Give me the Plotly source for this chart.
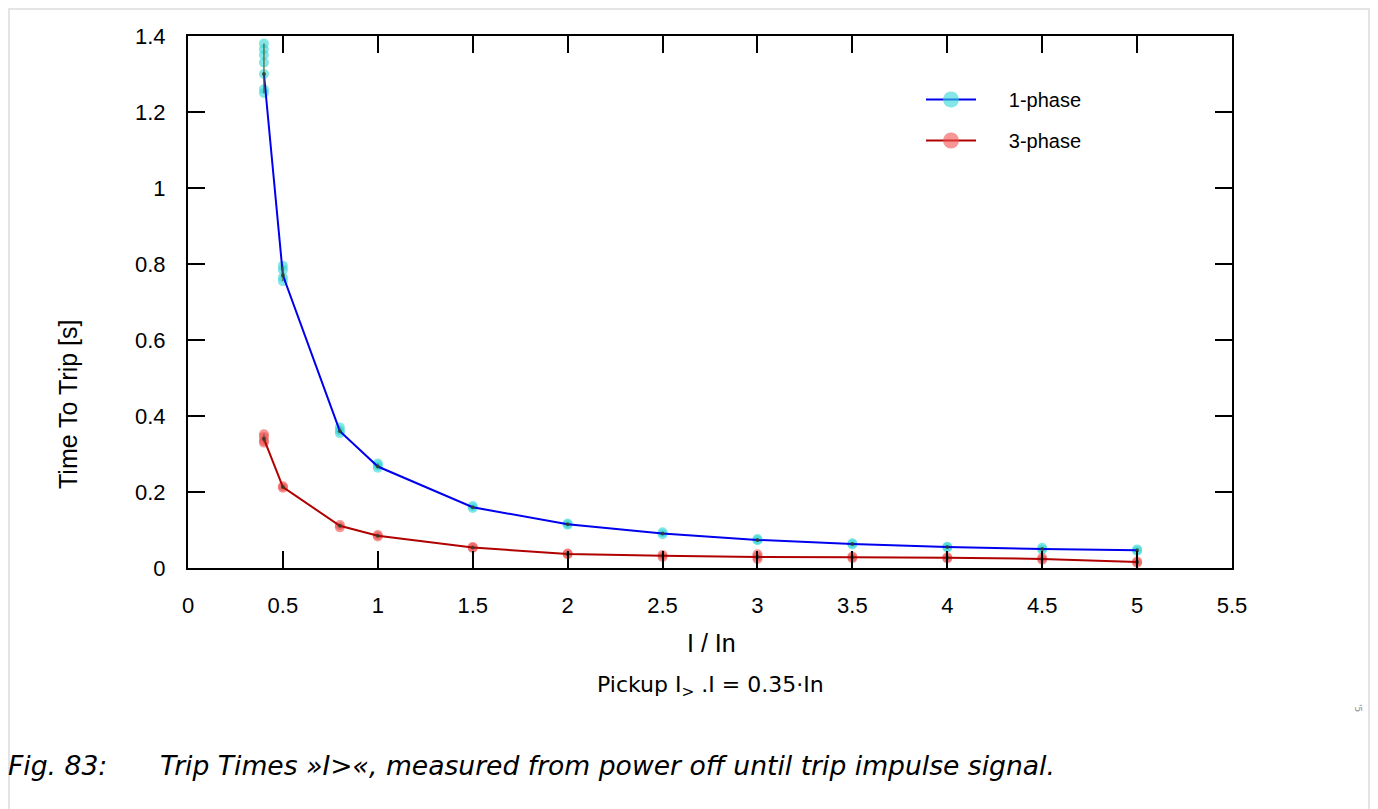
import plotly.graph_objects as go

# ---- data ----
x_levels = [0.4, 0.5, 0.8, 1.0, 1.5, 2.0, 2.5, 3.0, 3.5, 4.0, 4.5, 5.0]
t1_mean = [1.30, 0.77, 0.36, 0.267, 0.160, 0.115, 0.091, 0.074, 0.063, 0.055, 0.050, 0.047]
t3_mean = [0.340, 0.213, 0.111, 0.085, 0.054, 0.037, 0.032, 0.029, 0.028, 0.027, 0.024, 0.016]

t1_samples = [
    [1.25, 1.26, 1.30, 1.33, 1.35, 1.365, 1.38],
    [0.755, 0.765, 0.785, 0.795],
    [0.355, 0.362, 0.37],
    [0.264, 0.27, 0.275],
    [0.158, 0.163],
    [0.114, 0.117],
    [0.089, 0.094],
    [0.073, 0.076],
    [0.062, 0.065],
    [0.054, 0.056],
    [0.048, 0.053],
    [0.045, 0.049],
]
t3_samples = [
    [0.33, 0.335, 0.345, 0.352],
    [0.211, 0.215],
    [0.107, 0.113],
    [0.083, 0.087],
    [0.053, 0.055],
    [0.036, 0.038],
    [0.029, 0.034],
    [0.024, 0.030, 0.036],
    [0.026, 0.030],
    [0.025, 0.028],
    [0.022, 0.026],
    [0.014, 0.017],
]

x_ticks = [0, 0.5, 1, 1.5, 2, 2.5, 3, 3.5, 4, 4.5, 5, 5.5]
x_tick_labels = ["0", "0.5", "1", "1.5", "2", "2.5", "3", "3.5", "4", "4.5", "5", "5.5"]
y_ticks = [0, 0.2, 0.4, 0.6, 0.8, 1.0, 1.2, 1.4]
y_tick_labels = ["0", "0.2", "0.4", "0.6", "0.8", "1", "1.2", "1.4"]

series = [
    ("1-phase", t1_mean, t1_samples, "#0000ee", "rgba(50,215,215,0.6)"),
    ("3-phase", t3_mean, t3_samples, "#b00000", "rgba(240,80,80,0.6)"),
]

fig = go.Figure()
for name, means, samples, lcol, mcol in series:
    sx = [x for x, s in zip(x_levels, samples) for _ in s]
    sy = [v for s in samples for v in s]
    fig.add_trace(go.Scatter(x=sx, y=sy, mode="markers", showlegend=False,
                             marker=dict(size=10, color=mcol, line=dict(width=0)),
                             hoverinfo="skip"))
    fig.add_trace(go.Scatter(x=x_levels, y=means, mode="lines", showlegend=False,
                             line=dict(color=lcol, width=2)))
    fig.add_trace(go.Scatter(
        x=x_levels, y=means, mode="markers", showlegend=False,
        marker=dict(size=4, color="rgba(40,60,40,0.8)"),
        error_y=dict(type="data", symmetric=False,
                     array=[max(s) - m for s, m in zip(samples, means)],
                     arrayminus=[m - min(s) for s, m in zip(samples, means)],
                     color="rgba(90,90,50,0.8)", thickness=1.5, width=0)))
    # legend entry
    fig.add_trace(go.Scatter(x=[None], y=[None], mode="lines+markers",
                             name="\u00a0" * 5 + name,
                             legendgroup=name,
                             line=dict(color=lcol, width=2),
                             marker=dict(size=16, color=mcol)))

# page body has an 8px offset; all coordinates below are reference-screen pixels
OFF = 8
W, H = 1378 - OFF, 809 - OFF
PL, PR, PT, PB = 188, 1232, 36, 568   # plot area in screen pixels
pw, ph = PR - PL, PB - PT
L, T = PL - OFF, PT - OFF
R, B = W - (PR - OFF), H - (PB - OFF)

def px(x):
    return (x - PL) / pw

def py(y):
    return (PB - y) / ph

axis_common = dict(showline=True, linecolor="black", linewidth=2, mirror="allticks",
                   ticks="inside", ticklen=17, tickwidth=2, tickcolor="black",
                   showgrid=False, zeroline=False,
                   tickfont=dict(family="Liberation Sans, Arial", size=22, color="black"))

fig.update_xaxes(range=[0, 5.5], tickvals=x_ticks, ticktext=x_tick_labels,
                 ticklabelstandoff=17, **axis_common)
fig.update_yaxes(range=[0, 1.4], tickvals=y_ticks, ticktext=y_tick_labels,
                 ticklabelstandoff=16, **axis_common)

ann = [
    dict(text="I / In", x=px(711), y=py(643), family="Liberation Sans, Arial", size=25),
    dict(text="Time To Trip [s]", x=px(68), y=py(405), textangle=-90,
         family="Liberation Sans, Arial", size=25),
    dict(text="Pickup I<sub>></sub> .I = 0.35·In", x=px(710), y=py(686),
         family="DejaVu Sans", size=22),
    dict(text="'5", x=px(1358), y=py(708), textangle=90,
         family="DejaVu Sans", size=9, color="#888888"),
    dict(text="<i>Fig. 83:</i>", x=px(6), y=py(765), xanchor="left",
         family="DejaVu Sans", size=26.6),
    dict(text="<i>Trip Times »I>«, measured from power off until trip impulse signal.</i>",
         x=px(158), y=py(765), xanchor="left", family="DejaVu Sans", size=26.6),
]
annotations = []
for a in ann:
    annotations.append(dict(
        text=a["text"], x=a["x"], y=a["y"], xref="paper", yref="paper",
        showarrow=False, xanchor=a.get("xanchor", "center"), yanchor="middle",
        textangle=a.get("textangle", 0),
        font=dict(family=a["family"], size=a["size"], color=a.get("color", "black"))))

fig.update_layout(
    width=W, height=H,
    margin=dict(l=L, r=R, t=T, b=B, pad=0),
    paper_bgcolor="white", plot_bgcolor="white",
    annotations=annotations,
    legend=dict(x=px(921), y=py(80), xanchor="left", yanchor="top",
                bgcolor="rgba(0,0,0,0)", tracegroupgap=12, itemwidth=50,
                font=dict(family="Liberation Sans, Arial", size=20, color="black")),
    shapes=[dict(type="rect", xref="paper", yref="paper",
                 x0=px(9), x1=px(1369), y0=py(830), y1=py(9),
                 line=dict(color="#e4e4e4", width=2), layer="below")],
)

fig.write_html("out.html")
